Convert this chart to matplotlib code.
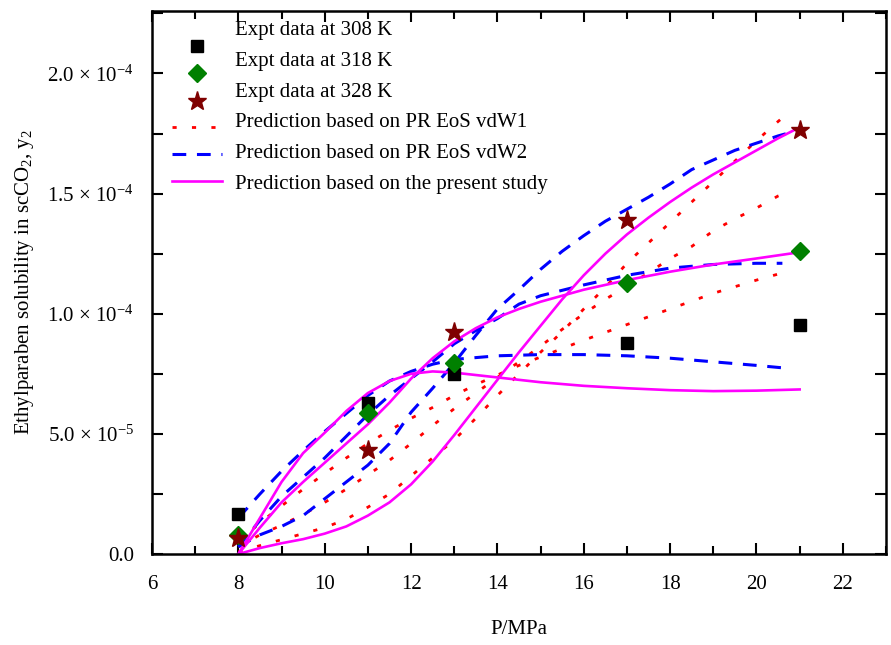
import numpy as np
import matplotlib
matplotlib.use("Agg")
import matplotlib.pyplot as plt
from matplotlib.ticker import MultipleLocator, FuncFormatter

plt.rcParams['font.family'] = ['Liberation Serif', 'DejaVu Serif']
plt.rcParams['mathtext.fontset'] = 'custom'
plt.rcParams['mathtext.rm'] = 'Liberation Serif'
plt.rcParams['mathtext.it'] = 'Liberation Serif:italic'

#Experimental data (P in MPa, y2 mole fraction)
P_expt = [8, 11, 13, 17, 21]
y_308 = [1.66e-5, 6.3e-5, 7.5e-5, 8.8e-5, 9.55e-5]
y_318 = [0.8e-5, 5.85e-5, 7.95e-5, 1.13e-4, 1.26e-4]
y_328 = [0.67e-5, 4.32e-5, 9.23e-5, 1.39e-4, 1.763e-4]

#Present study (solid magenta)
P_ps_308 = [8, 8.5, 9, 9.5, 10, 10.5, 11, 11.5, 12, 12.5, 13, 13.5, 14, 15, 16, 17, 18, 19, 20, 21]
y_ps_308 = [0, 1.5e-5, 3.0e-5, 4.2e-5, 5.05e-5, 5.95e-5, 6.7e-5, 7.2e-5, 7.5e-5, 7.6e-5, 7.55e-5, 7.45e-5,
            7.35e-5, 7.15e-5, 7.0e-5, 6.9e-5, 6.82e-5, 6.78e-5, 6.8e-5, 6.85e-5]
P_ps_318 = [8, 8.5, 9, 9.5, 10, 10.5, 11, 11.5, 12, 12.5, 13, 13.5, 14, 14.5, 15, 16, 17, 18, 19, 20, 21]
y_ps_318 = [0, 1.1e-5, 2.15e-5, 3.0e-5, 3.8e-5, 4.6e-5, 5.4e-5, 6.3e-5, 7.3e-5, 8.15e-5, 8.85e-5, 9.4e-5,
            9.85e-5, 1.02e-4, 1.05e-4, 1.1e-4, 1.14e-4, 1.175e-4, 1.205e-4, 1.23e-4, 1.256e-4]
P_ps_328 = [8, 8.5, 9, 9.5, 10, 10.5, 11, 11.5, 12, 12.5, 13, 13.5, 14, 14.5, 15, 15.5, 16, 16.5, 17,
            17.5, 18, 18.5, 19, 19.5, 20, 20.5, 21]
y_ps_328 = [0, 0.25e-5, 0.45e-5, 0.62e-5, 0.85e-5, 1.15e-5, 1.6e-5, 2.15e-5, 2.9e-5, 3.85e-5, 4.95e-5, 6.1e-5,
            7.25e-5, 8.4e-5, 9.5e-5, 1.06e-4, 1.16e-4, 1.25e-4, 1.33e-4, 1.4e-4, 1.465e-4, 1.525e-4,
            1.58e-4, 1.63e-4, 1.68e-4, 1.73e-4, 1.776e-4]

#PR EoS vdW2 (blue dashed)
P_w2_308 = [8, 8.5, 9, 9.5, 10, 10.5, 11, 11.5, 12, 12.5, 13, 14, 15, 16, 17, 18, 19, 20, 20.6]
y_w2_308 = [1.5e-5, 2.5e-5, 3.45e-5, 4.3e-5, 5.1e-5, 5.85e-5, 6.6e-5, 7.2e-5, 7.6e-5, 7.9e-5, 8.1e-5,
            8.25e-5, 8.3e-5, 8.3e-5, 8.25e-5, 8.15e-5, 8.0e-5, 7.85e-5, 7.75e-5]
P_w2_318 = [8, 8.5, 9, 9.5, 10, 10.5, 11, 11.5, 12, 12.5, 13, 13.5, 14, 14.5, 15, 16, 17, 18, 19, 20, 20.6]
y_w2_318 = [0.3e-5, 1.4e-5, 2.4e-5, 3.2e-5, 4.0e-5, 4.9e-5, 5.8e-5, 6.6e-5, 7.3e-5, 8.0e-5, 8.75e-5, 9.3e-5,
            9.8e-5, 1.04e-4, 1.075e-4, 1.12e-4, 1.16e-4, 1.19e-4, 1.205e-4, 1.21e-4, 1.21e-4]
P_w2_328 = [8, 8.5, 9, 9.5, 10, 10.5, 11, 11.5, 12, 12.5, 13, 13.5, 14, 14.5, 15, 15.5, 16, 16.5, 17,
            17.5, 18, 18.5, 19, 19.5, 20, 20.5, 20.8]
y_w2_328 = [0.3e-5, 0.8e-5, 1.15e-5, 1.6e-5, 2.3e-5, 3.0e-5, 3.7e-5, 4.6e-5, 5.9e-5, 6.9e-5, 7.95e-5, 9.1e-5,
            1.02e-4, 1.1e-4, 1.185e-4, 1.26e-4, 1.325e-4, 1.385e-4, 1.435e-4, 1.485e-4, 1.54e-4, 1.6e-4,
            1.64e-4, 1.68e-4, 1.71e-4, 1.74e-4, 1.755e-4]

#PR EoS vdW1 (red dotted)
P_w1_308 = [8, 8.5, 9, 9.5, 10, 10.5, 11, 11.5, 12, 12.5, 13, 13.5, 14, 14.5, 15, 16, 17, 18, 19, 20, 20.8]
y_w1_308 = [0.5e-5, 1.3e-5, 2.0e-5, 2.7e-5, 3.35e-5, 4.0e-5, 4.6e-5, 5.15e-5, 5.65e-5, 6.1e-5, 6.6e-5,
            7.05e-5, 7.45e-5, 7.85e-5, 8.2e-5, 8.9e-5, 9.55e-5, 1.02e-4, 1.085e-4, 1.14e-4, 1.18e-4]
P_w1_318 = [8, 8.5, 9, 9.5, 10, 10.5, 11, 11.5, 12, 12.5, 13, 13.5, 14, 14.5, 15, 15.5, 16, 16.5, 17,
            17.5, 18, 18.5, 19, 19.5, 20, 20.5, 20.8]
y_w1_318 = [0.3e-5, 0.8e-5, 1.2e-5, 1.65e-5, 2.15e-5, 2.7e-5, 3.3e-5, 3.9e-5, 4.6e-5, 5.35e-5, 6.05e-5,
            6.7e-5, 7.35e-5, 8.0e-5, 8.65e-5, 9.35e-5, 1.0e-4, 1.06e-4, 1.115e-4, 1.17e-4, 1.23e-4, 1.28e-4,
            1.345e-4, 1.395e-4, 1.44e-4, 1.49e-4, 1.51e-4]
P_w1_328 = [8, 8.5, 9, 9.5, 10, 10.5, 11, 11.5, 12, 12.5, 13, 13.5, 14, 14.5, 15, 15.5, 16, 16.5, 17,
            17.5, 18, 18.5, 19, 19.5, 20, 20.5, 20.8]
y_w1_328 = [0.1e-5, 0.35e-5, 0.6e-5, 0.85e-5, 1.1e-5, 1.45e-5, 1.95e-5, 2.5e-5, 3.25e-5, 4.0e-5, 4.75e-5,
            5.65e-5, 6.6e-5, 7.5e-5, 8.4e-5, 9.25e-5, 1.02e-4, 1.11e-4, 1.21e-4, 1.295e-4, 1.38e-4, 1.465e-4,
            1.55e-4, 1.635e-4, 1.72e-4, 1.8e-4, 1.845e-4]

legend_labels = ["Expt data at 308 K", "Expt data at 318 K", "Expt data at 328 K",
                 "Prediction based on PR EoS vdW1", "Prediction based on PR EoS vdW2",
                 "Prediction based on the present study"]

fig = plt.figure(figsize=(8.91, 6.45), dpi=100)
ax = fig.add_axes([0.1706, 0.141, 0.8238, 0.842])

dot_style = (0, (1.5, 5.5))
dash_style = (0, (4.5, 3.5))
red, blue, mag = "#ff0000", "#0000ff", "#ff00ff"

for P, y in [(P_w1_308, y_w1_308), (P_w1_318, y_w1_318), (P_w1_328, y_w1_328)]:
    ax.plot(P, y, color=red, lw=2.0, linestyle=dot_style)
for P, y in [(P_w2_308, y_w2_308), (P_w2_318, y_w2_318), (P_w2_328, y_w2_328)]:
    ax.plot(P, y, color=blue, lw=2.2, linestyle=dash_style)
for P, y in [(P_ps_308, y_ps_308), (P_ps_318, y_ps_318), (P_ps_328, y_ps_328)]:
    ax.plot(P, y, color=mag, lw=1.9)

mk = [("s", "black", 9), ("D", "#008000", 9), ("*", "#7f0000", 14)]
for y, (m, c, s) in zip([y_308, y_318, y_328], mk):
    ax.plot(P_expt, y, m, color=c, ms=s, linestyle="none")

#Origin style legend (no frame, symbols sit a bit below their text)
def fy(px):
    return (554 - px) / 543.0
text_rows = [31, 62, 93, 123, 154, 185]
for lab, r in zip(legend_labels, text_rows):
    ax.text(0.113, fy(r), lab, transform=ax.transAxes, fontsize=15, va="center", ha="left")
for (m, c, s), r in zip(mk, [46, 73, 101]):
    ax.plot([0.0613], [fy(r)], m, color=c, ms=s, transform=ax.transAxes, clip_on=False)
ax.plot([0.0272, 0.0954], [fy(127)] * 2, color=red, lw=2.0, linestyle=dot_style, transform=ax.transAxes)
ax.plot([0.0272, 0.0954], [fy(154)] * 2, color=blue, lw=2.2, linestyle=dash_style, transform=ax.transAxes)
ax.plot([0.0272, 0.0954], [fy(181)] * 2, color=mag, lw=1.9, transform=ax.transAxes)

ax.set_xlim(6, 23)
ax.set_ylim(0, 2.26e-4)
ax.xaxis.set_major_locator(MultipleLocator(2))
ax.xaxis.set_minor_locator(MultipleLocator(1))
ax.yaxis.set_major_locator(MultipleLocator(5e-5))
ax.yaxis.set_minor_locator(MultipleLocator(2.5e-5))

def yfmt(v, pos):
    if abs(v) < 1e-12:
        return "0.0"
    e = int(np.floor(np.log10(abs(v))))
    m = v / 10**e
    return r"%.1f $\times$ 10$^{%d}$" % (m, e)
ax.yaxis.set_major_formatter(FuncFormatter(yfmt))

ax.tick_params(axis="both", which="both", direction="in", top=True, right=True, width=1.5)
ax.tick_params(axis="x", which="major", length=8, labelsize=15, pad=15)
ax.tick_params(axis="x", which="minor", length=6)
ax.tick_params(axis="y", which="both", length=8, labelsize=15, pad=13)
for s in ax.spines.values():
    s.set_linewidth(1.8)

ax.set_xlabel("P/MPa", fontsize=15, labelpad=19)
ax.set_ylabel(r"Ethylparaben solubility in scCO$_2$, y$_2$", fontsize=15, labelpad=8)

plt.savefig("out.png", dpi=100)
